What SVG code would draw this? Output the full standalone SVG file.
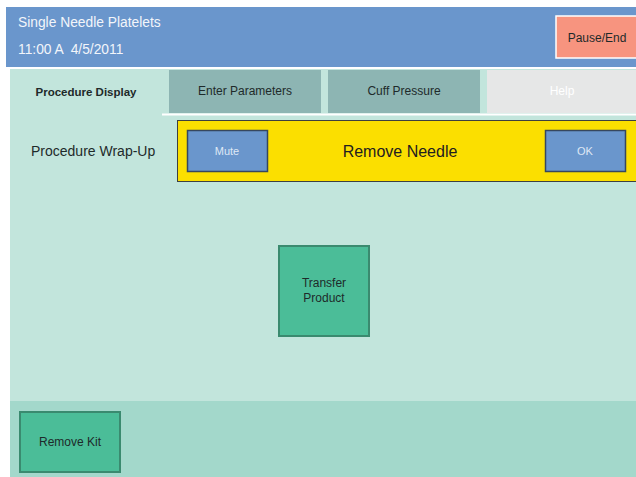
<svg xmlns="http://www.w3.org/2000/svg" width="636" height="477" viewBox="0 0 636 477">
  <style>
    text { font-family: "Liberation Sans", Arial, sans-serif; }
    .hdr { fill: #f2f5fa; font-size: 13.8px; }
    .tab { fill: #8db5b3; }
    .tabtxt { fill: #1e2a2a; font-size: 12px; text-anchor: middle; }
    .btn { fill: #6a96cc; stroke: #36475e; stroke-width: 1.5; }
    .btntxt { fill: #dfe8f5; font-size: 11px; text-anchor: middle; }
    .green { fill: #4bbd98; stroke: #3a8a6f; stroke-width: 2; }
    .dark { fill: #1e2a2a; text-anchor: middle; font-size: 12px; }
  </style>

  <rect x="0" y="0" width="636" height="477" fill="#ffffff"/>

  <!-- header bar -->
  <g id="header">
    <rect x="6" y="7" width="630" height="60" fill="#6a96cc"/>
    <text class="hdr" x="18" y="27">Single Needle Platelets</text>
    <text class="hdr" x="18" y="54" xml:space="preserve">11:00 A  4/5/2011</text>
  </g>

  <g id="pause-end">
    <rect x="556" y="16" width="82" height="42" fill="#f7947f" stroke="#ffffff" stroke-width="1.5"/>
    <text class="dark" x="597" y="42">Pause/End</text>
  </g>

  <!-- main content panels -->
  <rect x="10" y="69" width="626" height="332" fill="#c2e5dc"/>
  <rect x="10" y="401" width="626" height="76" fill="#a3d8cb"/>

  <!-- tabs -->
  <g id="tab-procedure-display">
    <rect x="10" y="69" width="152" height="45" fill="#c2e5dc"/>
    <text class="tabtxt" x="86" y="96" font-weight="bold" font-size="11.5" style="font-size:11.5px">Procedure Display</text>
  </g>
  <g id="tab-enter-parameters">
    <rect class="tab" x="169" y="70" width="152" height="43"/>
    <text class="tabtxt" x="245" y="95">Enter Parameters</text>
  </g>
  <g id="tab-cuff-pressure">
    <rect class="tab" x="328" y="70" width="152" height="43"/>
    <text class="tabtxt" x="404" y="95">Cuff Pressure</text>
  </g>
  <g id="tab-help">
    <rect x="487" y="70" width="149" height="43" fill="#e6e7e7"/>
    <text class="tabtxt" x="562" y="95" style="fill:#ffffff">Help</text>
  </g>
  <line x1="162" y1="114.5" x2="636" y2="114.5" stroke="#ffffff" stroke-width="2"/>

  <g id="status">
    <text x="31" y="156" font-size="14" fill="#1e2a2a">Procedure Wrap-Up</text>
  </g>

  <!-- alert banner -->
  <g id="alert">
    <rect x="177.5" y="120.5" width="460" height="61" fill="#fbdf00" stroke="#3d4040" stroke-width="1"/>
    <text x="400" y="157" font-size="16" fill="#1e2020" text-anchor="middle">Remove Needle</text>
  </g>
  <g id="mute">
    <rect class="btn" x="187.5" y="130.5" width="80" height="41"/>
    <text class="btntxt" x="227" y="155">Mute</text>
  </g>
  <g id="ok">
    <rect class="btn" x="545.5" y="130.5" width="80" height="41"/>
    <text class="btntxt" x="585" y="155">OK</text>
  </g>

  <g id="transfer-product">
    <rect class="green" x="279" y="246" width="90" height="90"/>
    <text class="dark" x="324" y="287">Transfer</text>
    <text class="dark" x="324" y="302">Product</text>
  </g>

  <g id="remove-kit">
    <rect class="green" x="20" y="412" width="100" height="60"/>
    <text class="dark" x="70" y="446">Remove Kit</text>
  </g>
</svg>
